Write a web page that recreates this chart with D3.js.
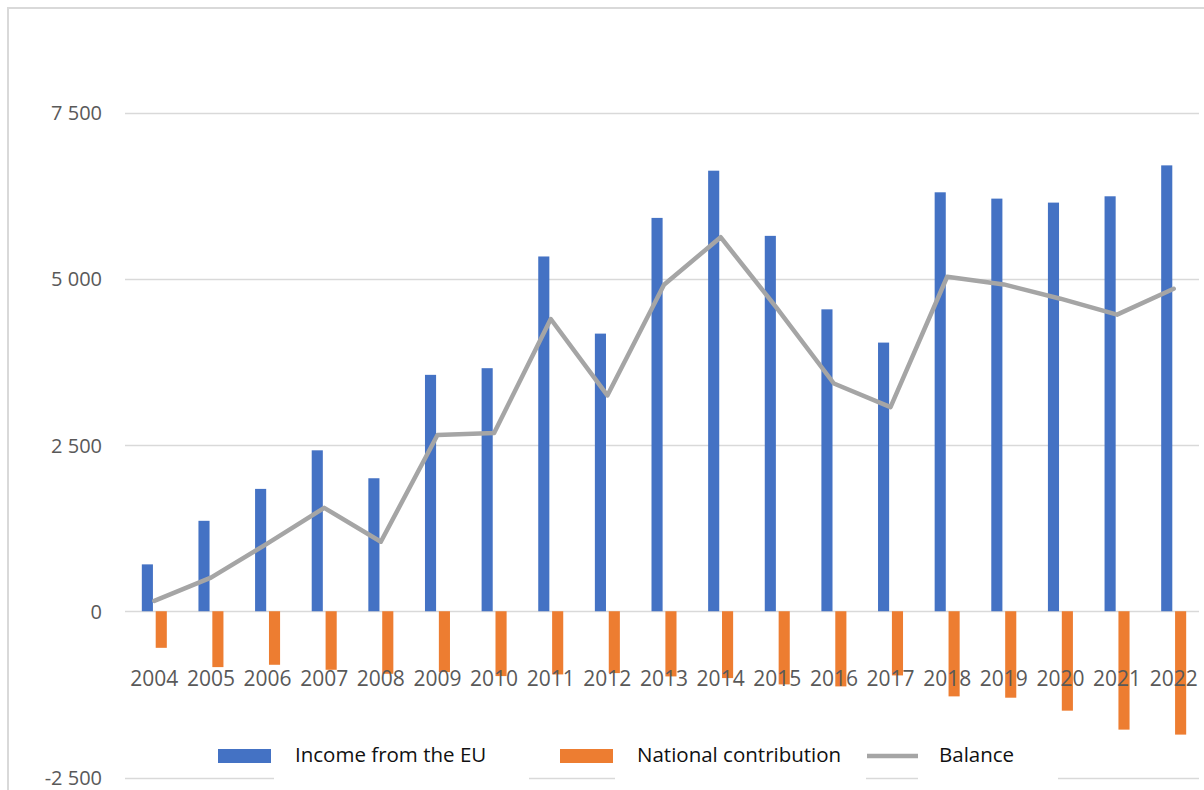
<!DOCTYPE html>
<html>
<head>
<meta charset="utf-8">
<script src="https://cdn.jsdelivr.net/npm/d3@7"></script>
<style>
  html, body { margin: 0; padding: 0; background: #ffffff; }
  svg { display: block; }
  text { font-family: "Open Sans", "Noto Sans", sans-serif; }
</style>
</head>
<body>
<svg id="chart" width="1204" height="790"></svg>
<script>
// EU budget flows by year
const years = ["2004","2005","2006","2007","2008","2009","2010","2011","2012","2013",
               "2014","2015","2016","2017","2018","2019","2020","2021","2022"];
const incomeFromEU = [705, 1360, 1840, 2420, 2000, 3555, 3655, 5335, 4175, 5915,
                      6625, 5645, 4540, 4040, 6300, 6205, 6145, 6240, 6705];
const nationalContribution = [-550, -840, -805, -880, -940, -915, -975, -950, -930, -980,
                              -1005, -1100, -1130, -965, -1280, -1300, -1495, -1780, -1855];
const balance = [155, 505, 1020, 1555, 1045, 2650, 2680, 4395, 3245, 4910,
                 5625, 4550, 3425, 3070, 5030, 4915, 4700, 4460, 4850];
const yTicks = [-2500, 0, 2500, 5000, 7500];
const seriesNames = ["Income from the EU", "National contribution", "Balance"];

const colors = { income: "#4472C4", contrib: "#ED7D31", balance: "#A5A5A5" };

const svg = d3.select("#chart");

// outer frame (top and left edges)
svg.append("line").attr("x1", 7).attr("x2", 1204).attr("y1", 8).attr("y2", 8)
  .attr("stroke", "#d9d9d9").attr("stroke-width", 2);
svg.append("line").attr("x1", 8).attr("x2", 8).attr("y1", 7).attr("y2", 790)
  .attr("stroke", "#d9d9d9").attr("stroke-width", 2);

const x = d3.scaleBand().domain(years).range([126, 1202]).paddingInner(0).paddingOuter(0);
const groupHalf = 12.5;
const xSub = d3.scaleBand().domain(["income", "contrib"])
  .range([-groupHalf, groupHalf]).paddingInner(0.2).paddingOuter(0);
const y = d3.scaleLinear().domain([-2500, 7500]).range([777.5, 112.5]);

const fmt = d3.formatLocale({ decimal: ",", thousands: " ", grouping: [3], currency: ["", ""], minus: "-" }).format(",d");

// horizontal gridlines
const gridX0 = 125, gridX1 = 1199;
svg.append("g").selectAll("line").data(yTicks).join("line")
  .attr("x1", gridX0).attr("x2", gridX1)
  .attr("y1", d => Math.round(y(d)) + 0.5).attr("y2", d => Math.round(y(d)) + 0.5)
  .attr("stroke", "#d9d9d9").attr("stroke-width", 1.3);

// y axis labels
const yAxis = d3.axisLeft(y).tickValues(yTicks).tickFormat(fmt).tickSize(0).tickPadding(0);
const yg = svg.append("g").attr("transform", "translate(102,0)").call(yAxis);
yg.select(".domain").remove();
yg.selectAll("text").attr("fill", "#595959").attr("font-size", 20)
  .attr("font-family", "'Open Sans', sans-serif").attr("dy", "0.35em");

const center = d => x(d) + x.bandwidth() / 2;

// income bars
svg.append("g").selectAll("rect").data(years).join("rect")
  .attr("x", (d) => center(d) + xSub("income"))
  .attr("width", xSub.bandwidth())
  .attr("y", (d, i) => y(Math.max(0, incomeFromEU[i])))
  .attr("height", (d, i) => Math.abs(y(incomeFromEU[i]) - y(0)))
  .attr("fill", colors.income);

// contribution bars
svg.append("g").selectAll("rect").data(years).join("rect")
  .attr("x", (d) => center(d) + xSub("contrib"))
  .attr("width", xSub.bandwidth())
  .attr("y", (d, i) => y(Math.max(0, nationalContribution[i])))
  .attr("height", (d, i) => Math.abs(y(nationalContribution[i]) - y(0)))
  .attr("fill", colors.contrib);

// balance line
const line = d3.line().x((d, i) => center(years[i])).y(d => y(d));
svg.append("path").datum(balance)
  .attr("d", line)
  .attr("fill", "none")
  .attr("stroke", colors.balance)
  .attr("stroke-width", 4.5)
  .attr("stroke-linejoin", "round")
  .attr("stroke-linecap", "round");

// year labels (drawn above the bars)
const xAxis = d3.axisBottom(x).tickSize(0).tickPadding(0);
const xg = svg.append("g").attr("transform", "translate(0,671)").call(xAxis);
xg.select(".domain").remove();
xg.selectAll("text").attr("fill", "#595959").attr("font-size", 21)
  .attr("font-family", "'Open Sans', sans-serif").attr("dy", "0.71em");

// legend
const legend = svg.append("g");
const legendItems = [
  { name: seriesNames[0], kind: "rect", color: colors.income, sx: 218, tx: 295, box: [274, 529] },
  { name: seriesNames[1], kind: "rect", color: colors.contrib, sx: 560, tx: 637, box: [615, 866] },
  { name: seriesNames[2], kind: "line", color: colors.balance, sx: 867, tx: 939, box: [918, 1058] }
];
legendItems.forEach(it => {
  legend.append("rect").attr("x", it.box[0]).attr("y", 738)
    .attr("width", it.box[1] - it.box[0]).attr("height", 46).attr("fill", "#ffffff");
  if (it.kind === "rect") {
    legend.append("rect").attr("x", it.sx).attr("y", 749).attr("width", 53).attr("height", 14)
      .attr("fill", it.color);
  } else {
    legend.append("line").attr("x1", it.sx).attr("x2", it.sx + 51).attr("y1", 756).attr("y2", 756)
      .attr("stroke", it.color).attr("stroke-width", 4.5);
  }
  legend.append("text").attr("x", it.tx).attr("y", 762)
    .attr("font-size", 20.5).attr("fill", "#111111").text(it.name);
});
</script>
</body>
</html>
